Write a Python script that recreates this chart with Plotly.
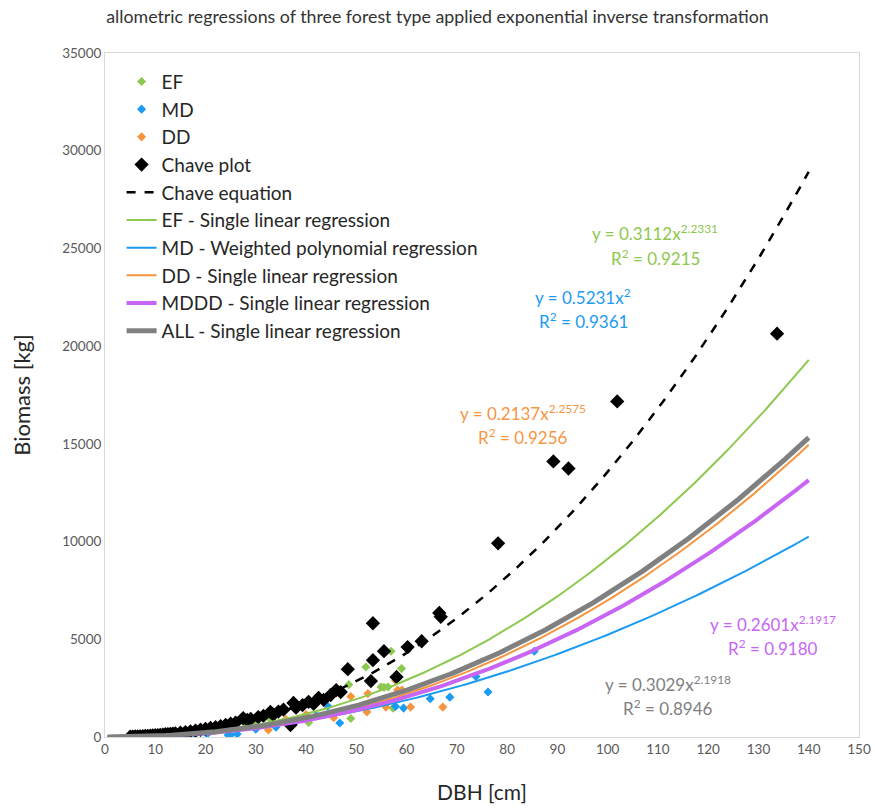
import numpy as np
import plotly.graph_objects as go

# ---- observed trees (DBH [cm], biomass [kg]) ----
ef_dbh = [8, 12, 15, 18, 20, 22, 25, 28, 30, 33, 35.5, 35.9, 40.5, 42.3, 48.5, 48.9, 51.9, 54.9, 55.5, 56.3, 56.9, 57.3, 59.0]
ef_bio = [60, 130, 200, 300, 350, 420, 500, 650, 720, 900, 1480, 1380, 740, 2100, 2680, 950, 3580, 2560, 2540, 2560, 4390, 1480, 3500]

md_dbh = [10, 14, 18, 20.3, 24.5, 25, 26.3, 30, 34, 38, 42, 44.3, 46.7, 57.8, 59.4, 64.7, 68.6, 73.8, 76.2, 85.4]
md_bio = [40, 90, 150, 150, 100, 110, 150, 400, 500, 800, 1100, 1580, 720, 1560, 1480, 1960, 2040, 3100, 2300, 4390]

dd_dbh = [9, 13, 17, 21, 25, 29, 32.5, 36, 40, 45.5, 48.9, 52.1, 52.3, 55.9, 57.8, 58.2, 59.1, 60.8, 67.2]
dd_bio = [50, 110, 200, 300, 420, 600, 360, 900, 1150, 990, 2070, 1280, 2220, 1530, 2900, 2400, 2400, 1530, 1530]

chave_dbh = [5.0, 5.5, 6.0, 6.5, 7.0, 7.5, 8.0, 8.5, 9.0, 9.5, 10.0, 10.5, 11.0, 11.5, 12.0,
             12.5, 13.0, 13.5, 14.0, 15.0, 16.0, 17.0, 18.0, 19.0, 20.0, 21.0, 22.0, 23.0,
             24.0, 25.0, 26.0, 27.5, 28.3, 29.0, 30.5, 31.5, 32.9, 33.5, 34.5, 35.5, 36.9,
             37.5, 38.0, 39.3, 40.5, 41.5, 42.5, 43.5, 44.9, 46.0, 46.9, 48.3, 52.9, 53.3,
             53.3, 55.5, 58.0, 60.2, 63.0, 66.5, 66.8, 78.2, 89.2, 92.2, 101.9, 133.7]
chave_bio = [15, 20, 25, 30, 35, 45, 50, 60, 70, 80, 90, 100, 110, 125, 140,
             150, 160, 175, 190, 220, 250, 290, 330, 370, 420, 460, 500, 560,
             620, 680, 740, 970, 870, 930, 1020, 1080, 1280, 1150, 1300, 1400, 610,
             1740, 1500, 1630, 1800, 1700, 2000, 1900, 2150, 2400, 2300, 3470, 2860, 3930,
             5820, 4390, 3070, 4600, 4900, 6350, 6150, 9910, 14100, 13740, 17170, 20640]

# ---- fitted allometric models: biomass = a * DBH^b ----
chave_coef = (0.429, 2.25)
ef_coef = (0.3112, 2.2331)
md_coef = (0.5231, 2.0)
dd_coef = (0.2137, 2.2575)
mddd_coef = (0.2601, 2.1917)
all_coef = (0.3029, 2.1918)

C_EF = "#8DC84F"
C_MD = "#1C9BF2"
C_DD = "#F7953F"
C_MDDD = "#C865F5"
C_ALL = "#808080"
FONT = "Lato"

xs = np.linspace(0.5, 140, 300)
xs_chave = np.linspace(5, 140, 300)


def power(coef, x):
    return coef[0] * np.power(x, coef[1])


fig = go.Figure()

for name, xv, yv, col in [("EF", ef_dbh, ef_bio, C_EF),
                          ("MD", md_dbh, md_bio, C_MD),
                          ("DD", dd_dbh, dd_bio, C_DD)]:
    fig.add_trace(go.Scatter(x=xv, y=yv, mode="markers", name=name,
                             marker=dict(symbol="diamond", size=7, color=col, line=dict(width=0))))

fig.add_trace(go.Scatter(x=chave_dbh, y=chave_bio, mode="markers", name="Chave plot",
                         marker=dict(symbol="diamond", size=11, color="black", line=dict(width=0))))

fig.add_trace(go.Scatter(x=xs_chave, y=power(chave_coef, xs_chave), mode="lines", name="Chave equation",
                         line=dict(color="black", width=2.5, dash="dash")))
fig.add_trace(go.Scatter(x=xs, y=power(ef_coef, xs), mode="lines", name="EF - Single linear regression",
                         line=dict(color=C_EF, width=2)))
fig.add_trace(go.Scatter(x=xs, y=power(md_coef, xs), mode="lines", name="MD - Weighted polynomial regression",
                         line=dict(color=C_MD, width=2)))
fig.add_trace(go.Scatter(x=xs, y=power(dd_coef, xs), mode="lines", name="DD - Single linear regression",
                         line=dict(color=C_DD, width=2)))
fig.add_trace(go.Scatter(x=xs, y=power(mddd_coef, xs), mode="lines", name="MDDD - Single linear regression",
                         line=dict(color=C_MDDD, width=4)))
fig.add_trace(go.Scatter(x=xs, y=power(all_coef, xs), mode="lines", name="ALL - Single linear regression",
                         line=dict(color=C_ALL, width=5)))

# equation labels (pixel positions inside the plot area)
labels = [
    ("y = 0.3112x<sup>2.2331</sup>", "R<sup>2</sup> = 0.9215", C_EF, 655, 233),
    ("y = 0.5231x<sup>2</sup>", "R<sup>2</sup> = 0.9361", C_MD, 583, 296),
    ("y = 0.2137x<sup>2.2575</sup>", "R<sup>2</sup> = 0.9256", C_DD, 523, 412),
    ("y = 0.2601x<sup>2.1917</sup>", "R<sup>2</sup> = 0.9180", C_MDDD, 773, 623),
    ("y = 0.3029x<sup>2.1918</sup>", "R<sup>2</sup> = 0.8946", C_ALL, 668, 683),
]
L, R, T, B = 105, 16, 53, 71
W, H = 875, 808
pw, ph = W - L - R, H - T - B
for eq, r2, col, px, py in labels:
    for txt, dy in [(eq, 0), (r2, 24)]:
        fig.add_annotation(x=(px - L) / pw, y=1 - (py + dy - T) / ph, xref="paper", yref="paper",
                           text=txt, showarrow=False, xanchor="center", yanchor="middle",
                           font=dict(family=FONT, size=17, color=col))

fig.update_layout(
    width=W, height=H,
    margin=dict(l=L, r=R, t=T, b=B),
    paper_bgcolor="white", plot_bgcolor="white",
    font=dict(family=FONT, color="#404040"),
    title=dict(text="allometric regressions of three forest type applied exponential inverse transformation",
               x=0.5, xanchor="center", y=1 - 17 / H, yanchor="middle",
               font=dict(family=FONT, size=17.8, color="#333333")),
    legend=dict(x=0.022, y=0.986, xanchor="left", yanchor="top", bgcolor="rgba(0,0,0,0)",
                font=dict(family=FONT, size=19, color="#262626"), tracegroupgap=0),
    showlegend=True,
)
fig.update_xaxes(range=[0, 150], dtick=10, tick0=0, showgrid=False, zeroline=False,
                 showline=True, mirror=True, linecolor="#D9D9D9", linewidth=1, automargin=False,
                 ticks="", tickfont=dict(family=FONT, size=13.5, color="#595959"),
                 title=dict(text="DBH [cm]", font=dict(family=FONT, size=21, color="#262626"), standoff=29))
fig.update_yaxes(range=[0, 35000], dtick=5000, tick0=0, tickformat="d", showgrid=False, zeroline=False,
                 showline=True, mirror=True, linecolor="#D9D9D9", linewidth=1, automargin=False,
                 ticks="", tickfont=dict(family=FONT, size=13.5, color="#595959"),
                 title=dict(text="Biomass [kg]", font=dict(family=FONT, size=22, color="#262626"), standoff=25))

fig.write_html("out.html")
